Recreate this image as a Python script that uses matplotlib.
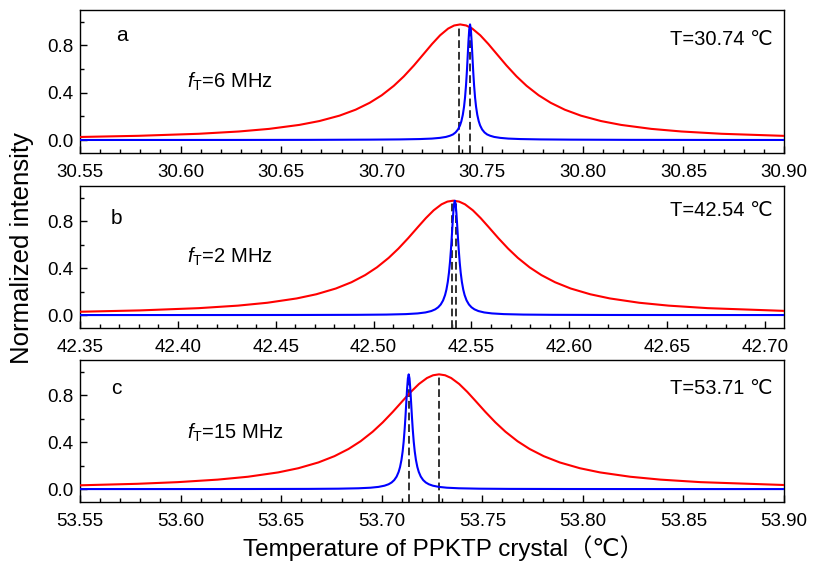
import matplotlib
matplotlib.use('Agg')
import matplotlib.pyplot as plt
from matplotlib.ticker import MultipleLocator

plt.rcParams['font.family'] = ['Liberation Sans', 'DejaVu Sans', 'Noto Sans CJK SC']
plt.rcParams['mathtext.fontset'] = 'custom'
plt.rcParams['mathtext.rm'] = 'Liberation Sans'
plt.rcParams['mathtext.it'] = 'Liberation Sans:italic'

# panel a (f_T = 6 MHz)
temp_red_a = [30.550, 30.579, 30.609, 30.629, 30.644, 30.659, 30.669, 30.679, 30.687, 30.694, 30.700, 30.706,
              30.711, 30.716, 30.721, 30.725, 30.729, 30.733, 30.736, 30.739,
              30.742, 30.745, 30.749, 30.753, 30.757, 30.762, 30.767, 30.772, 30.778, 30.784, 30.791, 30.799,
              30.809, 30.819, 30.834, 30.849, 30.869, 30.900]
int_red_a = [0.0256, 0.0354, 0.0526, 0.0720, 0.0941, 0.1277, 0.1604, 0.2061, 0.2564, 0.3148, 0.3786, 0.4585,
             0.5386, 0.6308, 0.7314, 0.8123, 0.8858, 0.9427, 0.9689, 0.978,
             0.9689, 0.9427, 0.8858, 0.8123, 0.7314, 0.6308, 0.5386, 0.4585, 0.3786, 0.3148, 0.2564, 0.2061,
             0.1604, 0.1277, 0.0941, 0.0720, 0.0526, 0.0350]
temp_blue_a = [30.550, 30.6239, 30.6639, 30.6939, 30.7089, 30.7189, 30.7249, 30.7289, 30.7319, 30.7339, 30.7354,
               30.7367, 30.7379, 30.7389, 30.7396, 30.7403, 30.7409, 30.7414, 30.7419, 30.7423, 30.7427, 30.7431,
               30.7435, 30.7439,
               30.7443, 30.7447, 30.7451, 30.7455, 30.7459, 30.7464, 30.7469, 30.7475, 30.7482, 30.7489, 30.7499,
               30.7511, 30.7524, 30.7539, 30.7559, 30.7589, 30.7629, 30.7689, 30.7789, 30.7939, 30.8239, 30.8639,
               30.900]
int_blue_a = [0.0002, 0.0005, 0.0012, 0.003, 0.005, 0.008, 0.012, 0.018, 0.026, 0.036, 0.0470, 0.0640, 0.0891,
              0.1234, 0.1597, 0.2131, 0.2800, 0.3581, 0.4640, 0.5722, 0.6991, 0.8307, 0.9365, 0.978,
              0.9365, 0.8307, 0.6991, 0.5722, 0.4640, 0.3581, 0.2800, 0.2131, 0.1597, 0.1234, 0.0891, 0.0640,
              0.0470, 0.036, 0.026, 0.018, 0.012, 0.008, 0.005, 0.003, 0.0012, 0.0005, 0.0002]
dash_a = [30.7386, 30.7438]

# panel b (f_T = 2 MHz)
temp_red_b = [42.350, 42.3807, 42.4107, 42.4307, 42.4457, 42.4607, 42.4707, 42.4807, 42.4887, 42.4957, 42.5017,
              42.5077, 42.5127, 42.5177, 42.5227, 42.5267, 42.5307, 42.5347, 42.5377, 42.5407,
              42.5437, 42.5467, 42.5507, 42.5547, 42.5587, 42.5637, 42.5687, 42.5737, 42.5797, 42.5857, 42.5927,
              42.6007, 42.6107, 42.6207, 42.6357, 42.6507, 42.6707, 42.7097]
int_red_b = [0.0284, 0.0398, 0.0590, 0.0805, 0.1050, 0.1418, 0.1773, 0.2264, 0.2799, 0.3410, 0.4068, 0.4875,
             0.5669, 0.6562, 0.7514, 0.8263, 0.8930, 0.9438, 0.9670, 0.975,
             0.9670, 0.9438, 0.8930, 0.8263, 0.7514, 0.6562, 0.5669, 0.4875, 0.4068, 0.3410, 0.2799, 0.2264,
             0.1773, 0.1418, 0.1050, 0.0805, 0.0590, 0.0358]
temp_blue_b = [42.350, 42.4215, 42.4615, 42.4915, 42.5065, 42.5165, 42.5225, 42.5265, 42.5295, 42.5315, 42.5330,
               42.5343, 42.5355, 42.5365, 42.5372, 42.5379, 42.5385, 42.5390, 42.5395, 42.5399, 42.5403, 42.5407,
               42.5411, 42.5415,
               42.5419, 42.5423, 42.5427, 42.5431, 42.5435, 42.5440, 42.5445, 42.5451, 42.5458, 42.5465, 42.5475,
               42.5487, 42.5500, 42.5515, 42.5535, 42.5565, 42.5605, 42.5665, 42.5765, 42.5915, 42.6215, 42.6615,
               42.7097]
int_blue_b = [0.0001, 0.0004, 0.0008, 0.0021, 0.0042, 0.0082, 0.0141, 0.0224, 0.0345, 0.0490, 0.0665, 0.0903,
              0.1249, 0.1703, 0.2169, 0.2826, 0.3609, 0.4469, 0.5552, 0.6570, 0.7664, 0.8698, 0.9464, 0.975,
              0.9464, 0.8698, 0.7664, 0.6570, 0.5552, 0.4469, 0.3609, 0.2826, 0.2169, 0.1703, 0.1249, 0.0903,
              0.0665, 0.0490, 0.0345, 0.0224, 0.0141, 0.0082, 0.0042, 0.0021, 0.0008, 0.0004, 0.0002]
dash_b = [42.5399, 42.5419]

# panel c (f_T = 15 MHz)
temp_red_c = [53.550, 53.5785, 53.5985, 53.6185, 53.6335, 53.6485, 53.6585, 53.6685, 53.6765, 53.6835, 53.6895,
              53.6955, 53.7005, 53.7055, 53.7105, 53.7145, 53.7185, 53.7225, 53.7255, 53.7285,
              53.7315, 53.7345, 53.7385, 53.7425, 53.7465, 53.7515, 53.7565, 53.7615, 53.7675, 53.7735, 53.7805,
              53.7885, 53.7985, 53.8085, 53.8235, 53.8385, 53.8585, 53.900]
int_red_c = [0.0323, 0.0451, 0.0592, 0.0808, 0.1053, 0.1422, 0.1778, 0.2271, 0.2808, 0.3420, 0.4080, 0.4890,
             0.5686, 0.6582, 0.7537, 0.8289, 0.8958, 0.9467, 0.9700, 0.978,
             0.9700, 0.9467, 0.8958, 0.8289, 0.7537, 0.6582, 0.5686, 0.4890, 0.4080, 0.3420, 0.2808, 0.2271,
             0.1778, 0.1422, 0.1053, 0.0808, 0.0592, 0.0349]
temp_blue_c = [53.550, 53.5934, 53.6334, 53.6634, 53.6784, 53.6884, 53.6944, 53.6984, 53.7014, 53.7034, 53.7049,
               53.7062, 53.7074, 53.7084, 53.7091, 53.7098, 53.7104, 53.7109, 53.7114, 53.7118, 53.7122, 53.7126,
               53.7130, 53.7134,
               53.7138, 53.7142, 53.7146, 53.7150, 53.7154, 53.7159, 53.7164, 53.7170, 53.7177, 53.7184, 53.7194,
               53.7206, 53.7219, 53.7234, 53.7254, 53.7284, 53.7324, 53.7384, 53.7484, 53.7634, 53.7934, 53.8334,
               53.900]
int_blue_c = [0.0002, 0.0003, 0.0007, 0.0017, 0.0035, 0.0069, 0.0118, 0.0188, 0.0291, 0.0413, 0.0563, 0.0767,
              0.1067, 0.1467, 0.1883, 0.2483, 0.3216, 0.4046, 0.5128, 0.6188, 0.7373, 0.8541, 0.9438, 0.978,
              0.9438, 0.8541, 0.7373, 0.6188, 0.5128, 0.4046, 0.3216, 0.2483, 0.1883, 0.1467, 0.1067, 0.0767,
              0.0563, 0.0413, 0.0291, 0.0188, 0.0118, 0.0069, 0.0035, 0.0017, 0.0007, 0.0003, 0.0001]
dash_c = [53.7134, 53.7285]

panel_letters = ['a', 'b', 'c']
ft_labels = [r'$f_{\mathrm{T}}$=6 MHz', r'$f_{\mathrm{T}}$=2 MHz', r'$f_{\mathrm{T}}$=15 MHz']
temp_labels = ['T=30.74 \u2103', 'T=42.54 \u2103', 'T=53.71 \u2103']
xlims = [(30.55, 30.90), (42.35, 42.7097), (53.55, 53.90)]

panels = [
    (temp_red_a, int_red_a, temp_blue_a, int_blue_a, dash_a),
    (temp_red_b, int_red_b, temp_blue_b, int_blue_b, dash_b),
    (temp_red_c, int_red_c, temp_blue_c, int_blue_c, dash_c),
]

fig = plt.figure(figsize=(8.14, 5.65), dpi=100)
rects = [[0.0983, 0.7292, 0.8649, 0.2531],
         [0.0983, 0.4195, 0.8649, 0.2513],
         [0.0983, 0.1115, 0.8649, 0.2513]]
letter_pos = [(0.060, 0.825), (0.052, 0.77), (0.052, 0.80)]
ft_y = [0.50, 0.50, 0.484]
temp_y = [0.795, 0.83, 0.80]

for i, (tr, ir, tb, ib, dl) in enumerate(panels):
    ax = fig.add_axes(rects[i])
    ax.plot(tr, ir, color='#ff0000', lw=1.5, zorder=3)
    ax.plot(tb, ib, color='#0000ff', lw=1.5, zorder=4)
    for xd in dl:
        ax.plot([xd, xd], [-0.11, 0.975], color='#333333', lw=1.4, dashes=(4, 2), zorder=2)
    ax.set_xlim(*xlims[i])
    ax.set_ylim(-0.11, 1.10)
    ax.xaxis.set_major_locator(MultipleLocator(0.05))
    ax.xaxis.set_minor_locator(MultipleLocator(0.01))
    ax.yaxis.set_major_locator(MultipleLocator(0.4))
    ax.yaxis.set_minor_locator(MultipleLocator(0.2))
    ax.xaxis.set_major_formatter(plt.FormatStrFormatter('%.2f'))
    ax.yaxis.set_major_formatter(plt.FormatStrFormatter('%.1f'))
    ax.tick_params(which='both', direction='in', top=False, right=False, labelsize=13.5)
    ax.tick_params(which='major', length=5, width=1)
    ax.tick_params(which='minor', length=3, width=1)
    ax.tick_params(axis='x', pad=8)
    ax.tick_params(axis='y', pad=5)
    for s in ax.spines.values():
        s.set_linewidth(1.0)
    ax.text(letter_pos[i][0], letter_pos[i][1], panel_letters[i], transform=ax.transAxes,
            fontsize=15, ha='center', va='center')
    ax.text(0.152, ft_y[i], ft_labels[i], transform=ax.transAxes, fontsize=14.5, ha='left', va='center')
    ax.text(0.984, temp_y[i], temp_labels[i], transform=ax.transAxes, fontsize=14.5, ha='right', va='center')

fig.text(0.027, 0.561, 'Normalized intensity', rotation=90, fontsize=18.5, ha='center', va='center')
fig.text(0.545, 0.030, 'Temperature of PPKTP crystal\uff08\u2103\uff09', fontsize=17.5, ha='center', va='center')

fig.savefig('out.png', dpi=100)
